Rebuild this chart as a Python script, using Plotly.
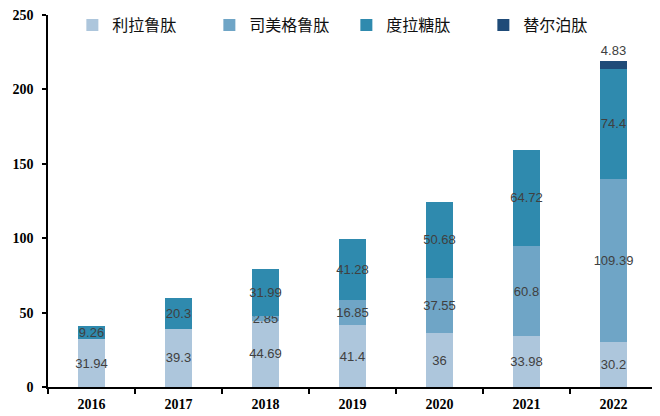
import plotly.graph_objects as go

years = ["2016", "2017", "2018", "2019", "2020", "2021", "2022"]
liraglutide = [31.94, 39.3, 44.69, 41.4, 36, 33.98, 30.2]
semaglutide = [None, None, 2.85, 16.85, 37.55, 60.8, 109.39]
dulaglutide = [9.26, 20.3, 31.99, 41.28, 50.68, 64.72, 74.4]
tirzepatide = [None, None, None, None, None, None, 4.83]

series = [
    ("利拉鲁肽", liraglutide, "#adc6dc", "inside"),
    ("司美格鲁肽", semaglutide, "#6fa5c6", "inside"),
    ("度拉糖肽", dulaglutide, "#2f8aae", "inside"),
    ("替尔泊肽", tirzepatide, "#1f4b78", "outside"),
]

def fmt(v):
    if v is None:
        return ""
    return f"{v:g}"

tick_font = dict(family="Liberation Serif", size=14, color="#000000", weight="bold")
label_font = dict(family="Liberation Sans", size=13, color="#404040")

fig = go.Figure()
for name, vals, color, pos in series:
    fig.add_trace(go.Bar(
        x=years, y=[v if v is not None else 0 for v in vals], name=name,
        marker=dict(color=color, line=dict(width=0)),
        width=0.31,
        text=[fmt(v) for v in vals],
        textposition=pos,
        insidetextanchor="middle",
        constraintext="none",
        textangle=0,
        cliponaxis=False,
        textfont=label_font,
        outsidetextfont=label_font,
    ))

# the page body has an 8px default margin, so the figure is 8px smaller
fig.update_layout(
    barmode="stack",
    width=652, height=408,
    margin=dict(l=40, r=3, t=7, b=29, autoexpand=False),
    plot_bgcolor="white", paper_bgcolor="white",
    showlegend=True,
    legend=dict(
        orientation="h", x=0.040, xanchor="left", y=1.0188, yanchor="top",
        font=dict(family="Noto Sans CJK SC", size=16, color="#111111"),
        bgcolor="rgba(0,0,0,0)",
        borderwidth=0,
        entrywidth=92, entrywidthmode="pixels",
        itemwidth=30,
        traceorder="normal",
    ),
    xaxis=dict(
        type="category", automargin=False,
        showline=True, linecolor="#000000", linewidth=1.5,
        ticks="outside", tickson="boundaries", ticklen=5, tickcolor="#000000", tickwidth=1.5,
        ticklabelstandoff=3,
        tickfont=tick_font,
        showgrid=False,
    ),
    yaxis=dict(
        range=[0, 250], tickvals=[0, 50, 100, 150, 200, 250], automargin=False,
        showline=True, linecolor="#000000", linewidth=1.5,
        ticks="outside", ticklen=4, tickcolor="#000000", tickwidth=1.5,
        ticklabelstandoff=6, ticklabeloverflow="allow",
        tickfont=tick_font,
        showgrid=False, zeroline=False,
    ),
)

fig.write_html("out.html")
